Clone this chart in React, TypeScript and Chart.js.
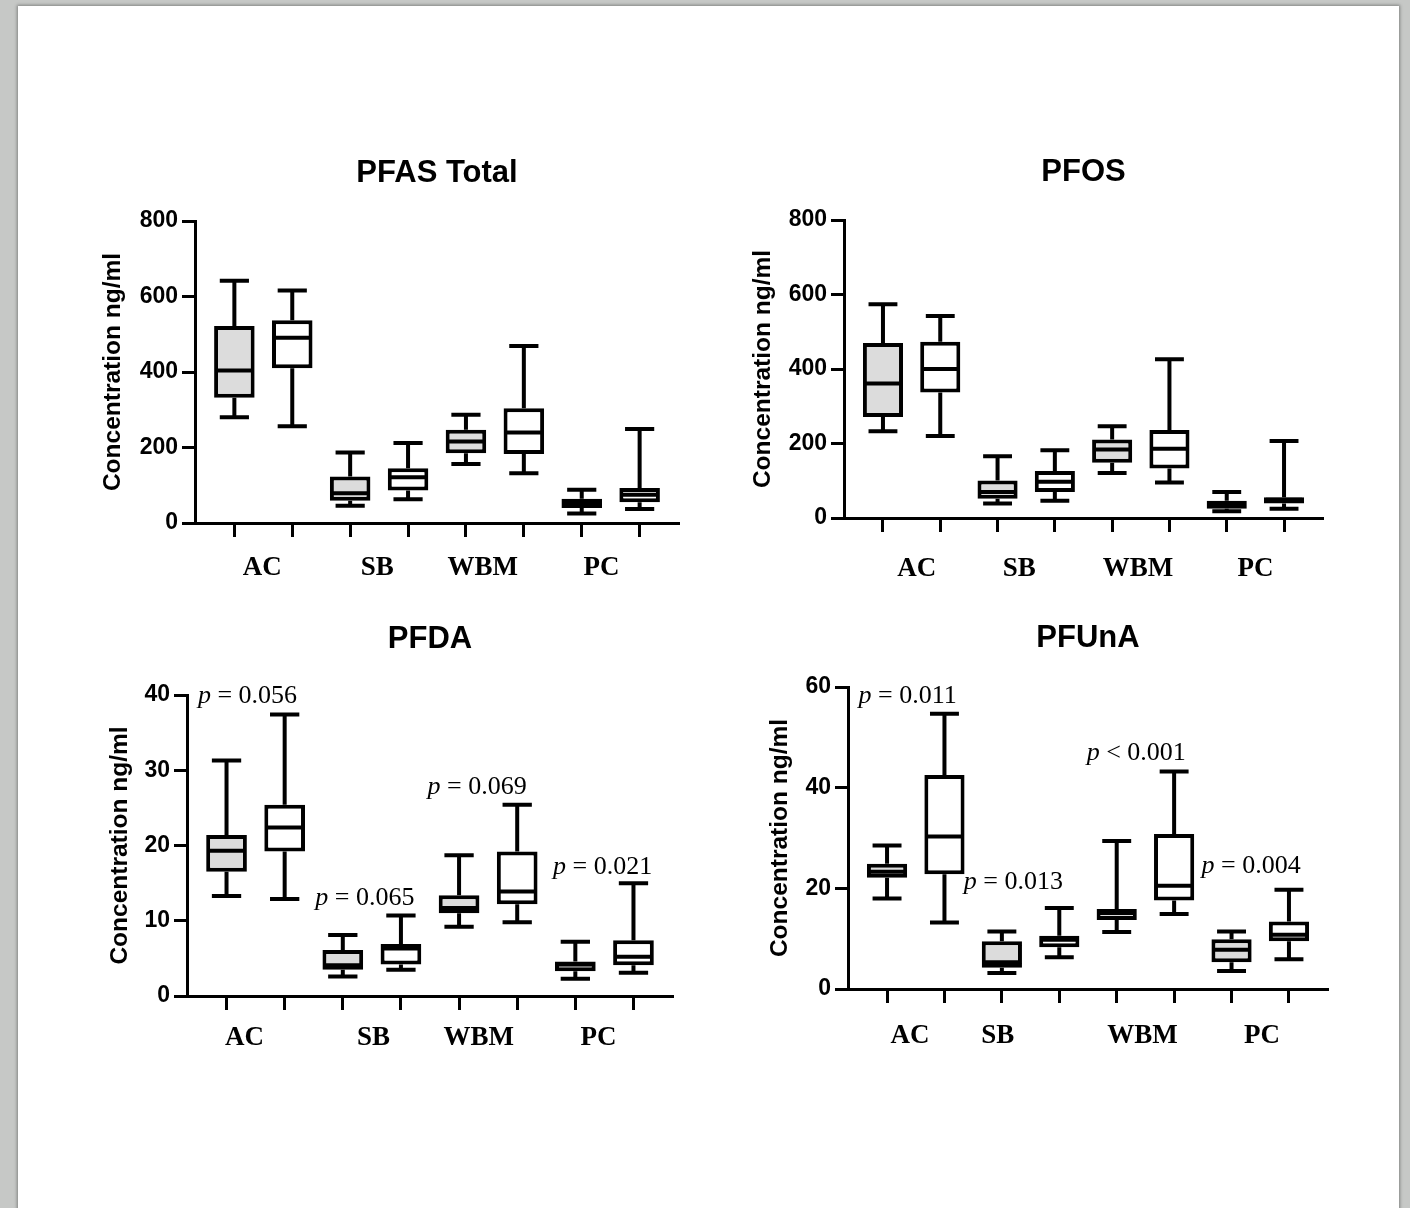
import React, { useEffect, useRef } from 'react';
import { Chart, registerables } from 'chart.js';

Chart.register(...registerables);

// ---------- shared ----------
const groupNames = ['AC', 'SB', 'WBM', 'PC'];
const boxIndex = [0, 1, 2, 3, 4, 5, 6, 7];
const boxFill = ['#dcdcdc', '#ffffff', '#dcdcdc', '#ffffff', '#dcdcdc', '#ffffff', '#dcdcdc', '#ffffff'];

// ---------- PFAS Total ----------
const totalTicks = [0, 200, 400, 600, 800];
const totalMin = [280, 256, 46, 63, 156, 132, 25, 37];
const totalQ1 = [332, 410, 59, 86, 185, 183, 40, 55];
const totalMed = [404, 491, 79, 121, 216, 240, 53, 75];
const totalQ3 = [522, 537, 123, 145, 247, 304, 64, 93];
const totalMax = [642, 616, 187, 212, 287, 469, 88, 249];
const totalGroupPos = [0.48, 2.47, 4.29, 6.34];

// ---------- PFOS ----------
const pfosTicks = [0, 200, 400, 600, 800];
const pfosMin = [233, 220, 39, 46, 121, 95, 18, 25];
const pfosQ1 = [271, 337, 52, 70, 148, 133, 25, 39];
const pfosMed = [361, 400, 70, 97, 184, 186, 37, 49];
const pfosQ3 = [470, 473, 101, 126, 211, 236, 46, 56];
const pfosMax = [574, 542, 166, 182, 246, 426, 70, 207];
const pfosGroupPos = [0.59, 2.38, 4.45, 6.5];

// ---------- PFDA ----------
const pfdaTicks = [0, 10, 20, 30, 40];
const pfdaMin = [13.3, 12.9, 2.6, 3.5, 9.2, 9.8, 2.3, 3.1];
const pfdaQ1 = [16.5, 19.2, 3.5, 4.2, 11.0, 12.2, 3.3, 4.1];
const pfdaMed = [19.3, 22.4, 4.1, 6.3, 11.7, 13.9, 4.2, 5.2];
const pfdaQ3 = [21.4, 25.4, 6.1, 6.9, 13.4, 19.2, 4.6, 7.4];
const pfdaMax = [31.3, 37.4, 8.1, 10.7, 18.7, 25.4, 7.2, 15.0];
const pfdaGroupPos = [0.31, 2.53, 4.34, 6.4];
const pfdaPText = ['= 0.056', '= 0.065', '= 0.069', '= 0.021'];
const pfdaPX = [0.36, 2.38, 4.31, 6.47];
const pfdaPY = [39.8, 13.0, 27.8, 17.1];

// ---------- PFUnA ----------
const pfunaTicks = [0, 20, 40, 60];
const pfunaMin = [18.0, 13.2, 3.2, 6.3, 11.3, 14.9, 3.6, 5.9];
const pfunaQ1 = [22.1, 22.8, 4.2, 8.3, 13.7, 17.6, 5.3, 9.5];
const pfunaMed = [23.3, 30.3, 5.3, 9.8, 15.1, 20.5, 7.8, 10.8];
const pfunaQ3 = [24.9, 42.5, 9.5, 10.6, 15.9, 30.8, 9.9, 13.4];
const pfunaMax = [28.5, 54.7, 11.4, 16.1, 29.4, 43.2, 11.4, 19.7];
const pfunaGroupPos = [0.4, 1.93, 4.45, 6.53];
const pfunaPText = ['= 0.011', '= 0.013', '< 0.001', '= 0.004'];
const pfunaPX = [0.36, 2.2, 4.34, 6.34];
const pfunaPY = [58.1, 21.3, 46.8, 24.4];

const SANS = '"Liberation Sans", Arial, Helvetica, sans-serif';
const SERIF = '"Liberation Serif", "Times New Roman", serif';

type Frame = { left: number; right: number; top: number; bottom: number; titleY: number; yTitleX: number; groupY: number };
type Spec = {
  title: string;
  yTicks: number[];
  min: number[]; q1: number[]; med: number[]; q3: number[]; max: number[];
  groupPos: number[];
  pText: string[]; pX: number[]; pY: number[];
  frame: Frame;
};

const panels: Spec[] = [
  {
    title: 'PFAS Total', yTicks: totalTicks,
    min: totalMin, q1: totalQ1, med: totalMed, q3: totalQ3, max: totalMax,
    groupPos: totalGroupPos, pText: [], pX: [], pY: [],
    frame: { left: 195, right: 679, top: 221, bottom: 523, titleY: 173, yTitleX: 113, groupY: 568 },
  },
  {
    title: 'PFOS', yTicks: pfosTicks,
    min: pfosMin, q1: pfosQ1, med: pfosMed, q3: pfosQ3, max: pfosMax,
    groupPos: pfosGroupPos, pText: [], pX: [], pY: [],
    frame: { left: 844, right: 1323, top: 220, bottom: 518, titleY: 172, yTitleX: 763, groupY: 569 },
  },
  {
    title: 'PFDA', yTicks: pfdaTicks,
    min: pfdaMin, q1: pfdaQ1, med: pfdaMed, q3: pfdaQ3, max: pfdaMax,
    groupPos: pfdaGroupPos, pText: pfdaPText, pX: pfdaPX, pY: pfdaPY,
    frame: { left: 187, right: 673, top: 695, bottom: 996, titleY: 639, yTitleX: 120, groupY: 1038 },
  },
  {
    title: 'PFUnA', yTicks: pfunaTicks,
    min: pfunaMin, q1: pfunaQ1, med: pfunaMed, q3: pfunaQ3, max: pfunaMax,
    groupPos: pfunaGroupPos, pText: pfunaPText, pX: pfunaPX, pY: pfunaPY,
    frame: { left: 848, right: 1328, top: 687, bottom: 989, titleY: 638, yTitleX: 780, groupY: 1036 },
  },
];

const Y_W = 100;
const PAD_R = 10;
const X_H = 14;
const XG_H = 60;
const TITLE_SIZE = 31;
const TITLE_LH = TITLE_SIZE * 1.2;
const YTITLE_SIZE = 24.5;
const GROUP_SIZE = 27;
const P_SIZE = 26;

function boxPlugin(spec: Spec) {
  return {
    id: 'boxWhiskers',
    afterDatasetsDraw(chart: any) {
      const ctx = chart.ctx;
      const ys = chart.scales.y;
      const meta = chart.getDatasetMeta(0);
      ctx.save();
      ctx.strokeStyle = '#000';
      ctx.lineWidth = 4;
      ctx.lineCap = 'butt';
      meta.data.forEach((el: any, i: number) => {
        const { x, width } = el.getProps(['x', 'width'], true);
        const pMin = ys.getPixelForValue(spec.min[i]);
        const pQ1 = ys.getPixelForValue(spec.q1[i]);
        const pMed = ys.getPixelForValue(spec.med[i]);
        const pQ3 = ys.getPixelForValue(spec.q3[i]);
        const pMax = ys.getPixelForValue(spec.max[i]);
        const cap = width * 0.72;
        ctx.beginPath();
        ctx.moveTo(x, pQ3); ctx.lineTo(x, pMax);
        ctx.moveTo(x, pQ1); ctx.lineTo(x, pMin);
        ctx.moveTo(x - cap / 2, pMax); ctx.lineTo(x + cap / 2, pMax);
        ctx.moveTo(x - cap / 2, pMin); ctx.lineTo(x + cap / 2, pMin);
        ctx.moveTo(x - width / 2 + 2, pMed); ctx.lineTo(x + width / 2 - 2, pMed);
        ctx.stroke();
      });
      ctx.restore();
    },
  };
}

function pPlugin(spec: Spec) {
  return {
    id: 'pLabels',
    afterDraw(chart: any) {
      if (!spec.pText.length) return;
      const ctx = chart.ctx;
      const xs = chart.scales.x;
      const ys = chart.scales.y;
      ctx.save();
      ctx.fillStyle = '#000';
      ctx.textBaseline = 'middle';
      ctx.textAlign = 'left';
      spec.pText.forEach((t, i) => {
        const cx = xs.getPixelForValue(spec.pX[i]);
        const cy = ys.getPixelForValue(spec.pY[i]);
        ctx.font = `italic ${P_SIZE}px ${SERIF}`;
        const wp = ctx.measureText('p').width;
        ctx.font = `${P_SIZE}px ${SERIF}`;
        const rest = ' ' + t;
        const wr = ctx.measureText(rest).width;
        const x0 = cx - (wp + wr) / 2;
        ctx.font = `italic ${P_SIZE}px ${SERIF}`;
        ctx.fillText('p', x0, cy);
        ctx.font = `${P_SIZE}px ${SERIF}`;
        ctx.fillText(rest, x0 + wp, cy);
      });
      ctx.restore();
    },
  };
}

function Panel({ spec }: { spec: Spec }) {
  const ref = useRef<HTMLCanvasElement | null>(null);
  const f = spec.frame;
  const cLeft = f.left - Y_W;
  const cTop = f.titleY - 30;
  const cWidth = f.right - f.left + Y_W + PAD_R;
  const cHeight = f.bottom + X_H + XG_H - cTop;

  useEffect(() => {
    if (!ref.current) return;
    const xMin = -0.68;
    const xMax = 7.68;
    const yMax = spec.yTicks[spec.yTicks.length - 1];
    const chart = new Chart(ref.current, {
      type: 'bar',
      data: {
        datasets: [
          {
            data: boxIndex.map((i) => ({ x: i, y: [spec.q1[i], spec.q3[i]] })) as any,
            backgroundColor: boxFill,
            borderColor: '#000',
            borderWidth: 4,
            borderSkipped: false,
            barPercentage: 0.7,
            categoryPercentage: 1,
          } as any,
        ],
      },
      options: {
        animation: false,
        responsive: false,
        maintainAspectRatio: false,
        layout: { padding: { left: 0, right: PAD_R, top: 0, bottom: 0 } },
        plugins: {
          legend: { display: false },
          tooltip: { enabled: false },
          title: {
            display: true,
            text: spec.title,
            color: '#000',
            fullSize: false,
            align: 'center',
            font: { family: SANS, size: TITLE_SIZE, weight: 'bold', lineHeight: 1.2 },
            padding: { top: 30 - TITLE_LH / 2, bottom: f.top - f.titleY - TITLE_LH / 2 },
          },
        },
        scales: {
          x: {
            type: 'linear',
            position: 'bottom',
            weight: 0,
            min: xMin,
            max: xMax,
            offset: false,
            afterBuildTicks: (s: any) => { s.ticks = boxIndex.map((v) => ({ value: v })); },
            afterFit: (s: any) => { s.height = X_H; },
            ticks: { display: false, autoSkip: false },
            grid: {
              display: true, drawOnChartArea: false, drawTicks: true, offset: false,
              tickLength: X_H, tickWidth: 3, tickColor: '#000',
            },
            border: { display: true, color: '#000', width: 3 },
          },
          xg: {
            type: 'linear',
            position: 'bottom',
            weight: 1,
            min: xMin,
            max: xMax,
            offset: false,
            afterBuildTicks: (s: any) => { s.ticks = spec.groupPos.map((v) => ({ value: v })); },
            afterFit: (s: any) => { s.height = XG_H; },
            ticks: {
              autoSkip: false,
              maxRotation: 0,
              minRotation: 0,
              color: '#000',
              padding: f.groupY - f.bottom - X_H - (GROUP_SIZE * 1.2) / 2,
              font: { family: SERIF, size: GROUP_SIZE, weight: 'bold', lineHeight: 1.2 },
              callback: (_v: any, idx: number) => groupNames[idx],
            },
            grid: { display: false, drawTicks: false, offset: false },
            border: { display: false },
          },
          y: {
            type: 'linear',
            position: 'left',
            min: 0,
            max: yMax,
            afterBuildTicks: (s: any) => { s.ticks = spec.yTicks.map((v) => ({ value: v })); },
            afterFit: (s: any) => { s.width = Y_W; },
            ticks: {
              color: '#000',
              padding: 4,
              font: { family: SANS, size: 23, weight: 'bold', lineHeight: 1.2 },
            },
            grid: {
              display: true, drawOnChartArea: false, drawTicks: true,
              tickLength: 13, tickWidth: 3, tickColor: '#000',
            },
            border: { display: true, color: '#000', width: 3 },
            title: {
              display: true,
              text: 'Concentration ng/ml',
              color: '#000',
              font: { family: SANS, size: YTITLE_SIZE, weight: 'bold', lineHeight: 1.2 },
              padding: { top: f.yTitleX - cLeft - (YTITLE_SIZE * 1.2) / 2, bottom: 0 },
            },
          },
        },
      } as any,
      plugins: [boxPlugin(spec), pPlugin(spec)],
    });
    return () => chart.destroy();
  }, [spec]);

  return (
    <canvas
      ref={ref}
      width={cWidth}
      height={cHeight}
      style={{ position: 'absolute', left: cLeft, top: cTop, width: cWidth, height: cHeight }}
    />
  );
}

export default function App() {
  return (
    <div
      style={{
        position: 'absolute',
        left: 0,
        top: 0,
        width: 1410,
        height: 1208,
        overflow: 'hidden',
        background: '#c6c8c6',
      }}
    >
      <div
        style={{
          position: 'absolute',
          left: 18,
          top: 6,
          width: 1381,
          height: 1220,
          background: '#ffffff',
          boxShadow: '0 0 3px 1px rgba(0,0,0,0.35)',
        }}
      />
      {panels.map((p) => (
        <Panel key={p.title} spec={p} />
      ))}
    </div>
  );
}
